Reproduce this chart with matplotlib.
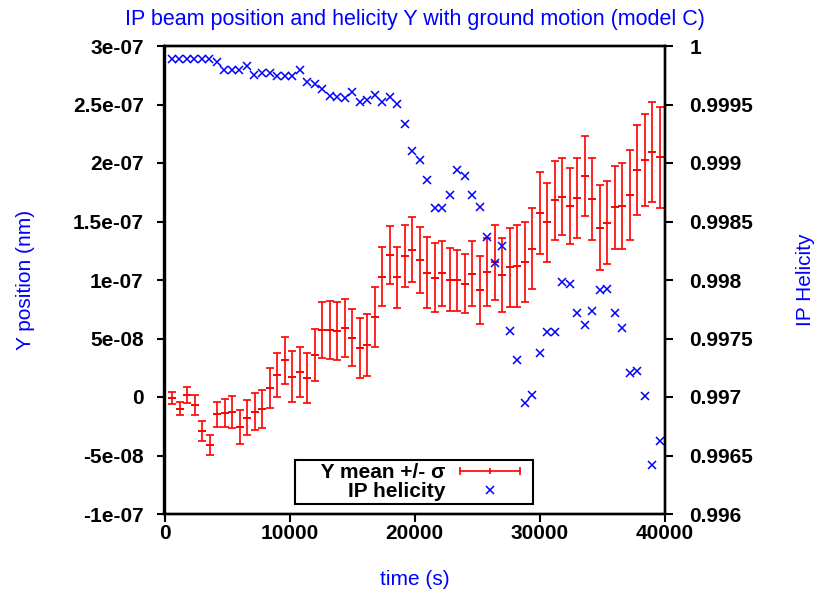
import matplotlib
matplotlib.use("Agg")
import matplotlib.pyplot as plt
from matplotlib.lines import Line2D
from matplotlib.legend_handler import HandlerBase

# DATA
time_s = [600, 1200, 1800, 2400, 3000, 3600, 4200, 4800, 5400, 6000,
          6600, 7200, 7800, 8400, 9000, 9600, 10200, 10800, 11400, 12000,
          12600, 13200, 13800, 14400, 15000, 15600, 16200, 16800, 17400, 18000,
          18600, 19200, 19800, 20400, 21000, 21600, 22200, 22800, 23400, 24000,
          24600, 25200, 25800, 26400, 27000, 27600, 28200, 28800, 29400, 30000,
          30600, 31200, 31800, 32400, 33000, 33600, 34200, 34800, 35400, 36000,
          36600, 37200, 37800, 38400, 39000, 39600]

y_mean = [-1.1e-9, -1.0e-8, 1.7e-9, -7.1e-9, -2.88e-8, -4.13e-8, -1.48e-8, -1.39e-8, -1.26e-8, -2.54e-8,
          -1.77e-8, -1.26e-8, -1.0e-8, 7.4e-9, 1.91e-8, 3.14e-8, 1.74e-8, 2.14e-8, 1.62e-8, 3.59e-8,
          5.73e-8, 5.75e-8, 5.67e-8, 5.9e-8, 5.07e-8, 4.16e-8, 4.47e-8, 6.86e-8, 1.026e-7, 1.212e-7,
          1.023e-7, 1.201e-7, 1.259e-7, 1.171e-7, 1.062e-7, 1.019e-7, 1.057e-7, 1.003e-7, 9.97e-8, 9.68e-8,
          1.054e-7, 9.12e-8, 1.07e-7, 1.15e-7, 1.044e-7, 1.109e-7, 1.118e-7, 1.156e-7, 1.267e-7, 1.57e-7,
          1.493e-7, 1.681e-7, 1.712e-7, 1.632e-7, 1.703e-7, 1.891e-7, 1.69e-7, 1.447e-7, 1.49e-7, 1.621e-7,
          1.635e-7, 1.726e-7, 1.94e-7, 2.026e-7, 2.094e-7, 2.049e-7]

y_sigma = [5.3e-9, 5.7e-9, 6.8e-9, 8.5e-9, 8.5e-9, 8.5e-9, 1.09e-8, 1.2e-8, 1.37e-8, 1.45e-8,
           1.5e-8, 1.56e-8, 1.62e-8, 1.71e-8, 1.88e-8, 2.01e-8, 2.16e-8, 2.14e-8, 2.11e-8, 2.25e-8,
           2.37e-8, 2.48e-8, 2.48e-8, 2.44e-8, 2.45e-8, 2.56e-8, 2.65e-8, 2.58e-8, 2.52e-8, 2.5e-8,
           2.63e-8, 2.65e-8, 2.8e-8, 2.82e-8, 3.02e-8, 2.93e-8, 2.79e-8, 2.68e-8, 2.59e-8, 2.54e-8,
           2.76e-8, 2.91e-8, 2.93e-8, 3.2e-8, 3.16e-8, 3.39e-8, 3.5e-8, 3.42e-8, 3.46e-8, 3.5e-8,
           3.4e-8, 3.35e-8, 3.27e-8, 3.27e-8, 3.42e-8, 3.42e-8, 3.5e-8, 3.63e-8, 3.56e-8, 3.56e-8,
           3.68e-8, 3.85e-8, 3.83e-8, 3.97e-8, 4.27e-8, 4.33e-8]

helicity = [0.999891, 0.999891, 0.999891, 0.999891, 0.999891, 0.999891, 0.999866, 0.999792, 0.999792, 0.999792,
            0.999829, 0.99975, 0.999772, 0.999772, 0.999744, 0.999744, 0.999744, 0.999795, 0.999695, 0.999673,
            0.99963, 0.999573, 0.999564, 0.999553, 0.999609, 0.999521, 0.999536, 0.999581, 0.999521, 0.999567,
            0.999502, 0.999331, 0.999103, 0.999023, 0.998855, 0.998618, 0.998618, 0.998724, 0.99894, 0.998891,
            0.998726, 0.998621, 0.998365, 0.998143, 0.998293, 0.997564, 0.997316, 0.996949, 0.997017, 0.997379,
            0.997556, 0.997556, 0.997983, 0.997963, 0.997715, 0.997615, 0.997735, 0.997915, 0.997926, 0.997715,
            0.997592, 0.997203, 0.997222, 0.997009, 0.996416, 0.99662]

x_ticks = [0, 10000, 20000, 30000, 40000]
left_ticks = [-1e-7, -5e-8, 0, 5e-8, 1e-7, 1.5e-7, 2e-7, 2.5e-7, 3e-7]
left_labels = ["-1e-07", "-5e-08", "0", "5e-08", "1e-07", "1.5e-07", "2e-07", "2.5e-07", "3e-07"]
right_ticks = [0.996, 0.9965, 0.997, 0.9975, 0.998, 0.9985, 0.999, 0.9995, 1.0]
right_labels = ["0.996", "0.9965", "0.997", "0.9975", "0.998", "0.9985", "0.999", "0.9995", "1"]

SAMPLE_FRAC = 0.86  # part of the handle box used by the sample (rest is right margin)


class HandlerErrSample(HandlerBase):
    # gnuplot style sample: line with caps at both ends and a tick in the middle
    def create_artists(self, legend, orig_handle, xdescent, ydescent,
                       width, height, fontsize, trans):
        y = height / 2 - ydescent
        x0 = -xdescent
        x1 = x0 + width * SAMPLE_FRAC
        line = Line2D([x0, x1], [y, y], color="red", lw=1.2, transform=trans)
        caps = Line2D([x0, x1], [y, y], ls="none", marker="|", ms=6,
                      mew=1.2, color="red", transform=trans)
        mid = Line2D([(x0 + x1) / 2], [y], ls="none", marker="|", ms=5,
                     mew=1.2, color="red", transform=trans)
        return [line, caps, mid]


class HandlerCross(HandlerBase):
    def create_artists(self, legend, orig_handle, xdescent, ydescent,
                       width, height, fontsize, trans):
        y = height / 2 - ydescent
        x = -xdescent + width * SAMPLE_FRAC / 2
        m = Line2D([x], [y], ls="none", marker="x", ms=5.5, mew=1.1,
                   color="blue", transform=trans)
        return [m]


plt.rcParams["font.family"] = ["Liberation Sans", "DejaVu Sans"]

fig = plt.figure(figsize=(8.17, 5.92), dpi=100)
ax = fig.add_axes([164.5 / 817, 78 / 592, 500 / 817, 468 / 592])
ax2 = ax.twinx()

ax.errorbar(time_s, y_mean, yerr=y_sigma, fmt="none", ecolor="red",
            elinewidth=1.4, capsize=2.6, capthick=1.4, alpha=0.85)
ax.plot(time_s, y_mean, ls="none", marker="_", ms=5.5, mew=1.4, color="red")
err_proxy = Line2D([], [], color="red")

hel, = ax2.plot(time_s, helicity, ls="none", marker="x", ms=5.5, mew=1.1,
                color="blue")

ax.set_xlim(0, 40000)
ax.set_ylim(-1e-7, 3e-7)
ax2.set_ylim(0.996, 1.0)

ax.set_xticks(x_ticks)
ax.set_xticklabels([str(v) for v in x_ticks])
ax.set_yticks(left_ticks)
ax.set_yticklabels(left_labels)
ax2.set_yticks(right_ticks)
ax2.set_yticklabels(right_labels)

for a in (ax, ax2):
    a.tick_params(direction="out", length=6, width=1.5, labelsize=15)
    for lab in a.get_xticklabels() + a.get_yticklabels():
        lab.set_fontweight("bold")
    for sp in a.spines.values():
        sp.set_linewidth(1.7)
ax.tick_params(axis="y", pad=9)
ax.tick_params(axis="x", pad=1.5)
ax2.tick_params(axis="y", pad=12)

ax.set_title("IP beam position and helicity Y with ground motion (model C)",
             color="blue", fontsize=15.5, pad=15)
ax.set_xlabel("time (s)", color="blue", fontsize=15, labelpad=19)
ax.set_ylabel("Y position (nm)", color="blue", fontsize=15, labelpad=27)
ax2.set_ylabel("IP Helicity", color="blue", fontsize=15, labelpad=31)

leg = ax2.legend([err_proxy, hel], ["    Y mean +/- σ", "IP helicity"],
                 handler_map={err_proxy: HandlerErrSample(),
                              hel: HandlerCross()},
                 loc="lower center", bbox_to_anchor=(0.499, 0.021),
                 markerfirst=False, fancybox=False, edgecolor="black",
                 framealpha=1, prop={"weight": "bold", "size": 15},
                 handlelength=3.37, handletextpad=0.72, labelspacing=0.0,
                 borderpad=0.15, borderaxespad=0)
leg.get_frame().set_linewidth(1.5)

fig.savefig("out.png", dpi=100)
